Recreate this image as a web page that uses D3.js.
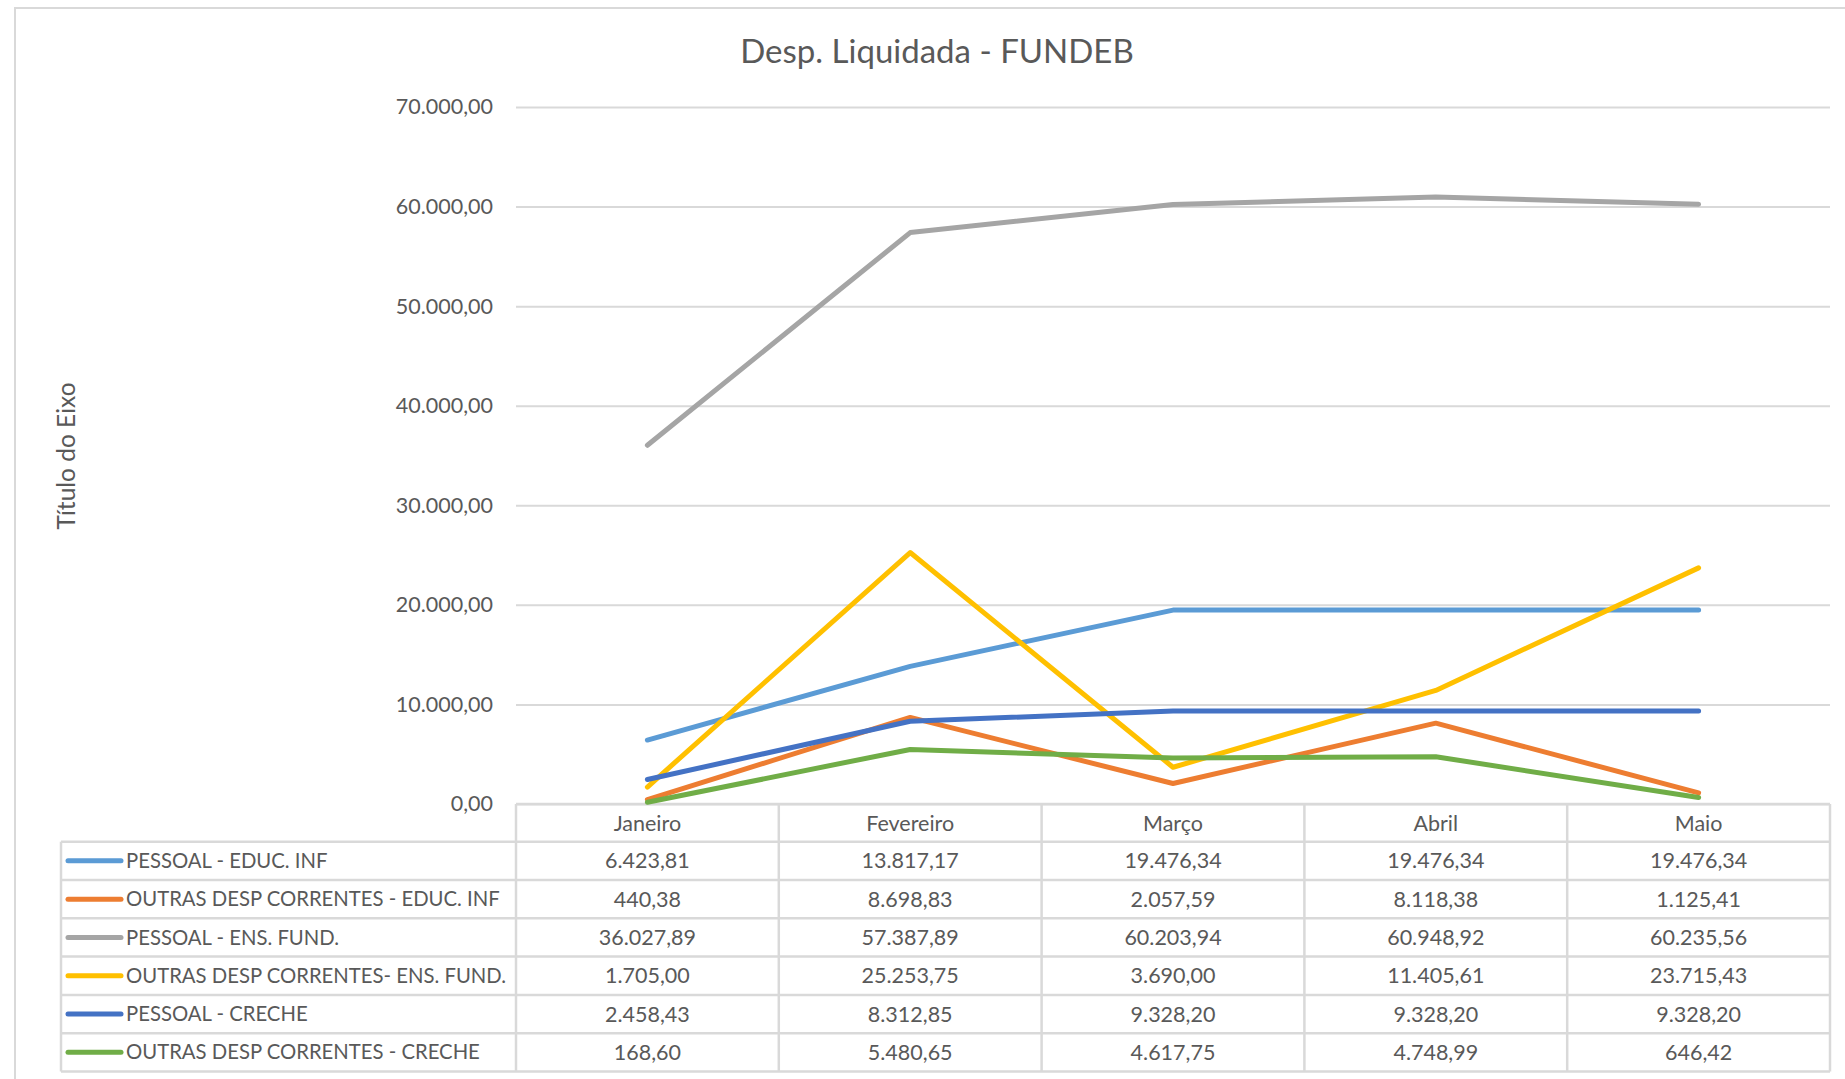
<!DOCTYPE html>
<html>
<head>
<meta charset="utf-8">
<script src="https://cdn.jsdelivr.net/npm/d3@7"></script>
<style>
  body { margin: 0; background: #fff; }
  svg { font-family: Lato, "Open Sans", sans-serif; }
  .tick text { fill: #595959; }
</style>
</head>
<body>
<div class="chart"></div>
<script>
const months = ["Janeiro", "Fevereiro", "Março", "Abril", "Maio"];
const seriesNames = [
    "PESSOAL - EDUC. INF",
    "OUTRAS DESP CORRENTES - EDUC. INF",
    "PESSOAL - ENS. FUND.",
    "OUTRAS DESP CORRENTES- ENS. FUND.",
    "PESSOAL - CRECHE",
    "OUTRAS DESP CORRENTES - CRECHE"
];
const pessoalEducInf = [6423.81, 13817.17, 19476.34, 19476.34, 19476.34];
const outrasEducInf = [440.38, 8698.83, 2057.59, 8118.38, 1125.41];
const pessoalEnsFund = [36027.89, 57387.89, 60203.94, 60948.92, 60235.56];
const outrasEnsFund = [1705.00, 25253.75, 3690.00, 11405.61, 23715.43];
const pessoalCreche = [2458.43, 8312.85, 9328.20, 9328.20, 9328.20];
const outrasCreche = [168.60, 5480.65, 4617.75, 4748.99, 646.42];
const yTicks = [0, 10000, 20000, 30000, 40000, 50000, 60000, 70000];
const colors = ["#5B9BD5", "#ED7D31", "#A5A5A5", "#FFC000", "#4472C4", "#70AD47"];

const allValues = [pessoalEducInf, outrasEducInf, pessoalEnsFund, outrasEnsFund, pessoalCreche, outrasCreche];

const ptBR = d3.formatLocale({ decimal: ",", thousands: ".", grouping: [3], currency: ["R$", ""] });
const fmt = ptBR.format(",.2f");

const w = 1845, h = 1079;
const plotLeft = 516, plotRight = 1830, plotTop = 107, plotBottom = 804;
const tableLeft = 61;
const rowH = 38.3;
const headerBottom = 841.7;
const textColor = "#595959";
const gridColor = "#D9D9D9";

var svg = d3.select(".chart").append("svg")
    .attr("width", w)
    .attr("height", h);

// chart frame
svg.append("rect")
    .attr("x", 15).attr("y", 8)
    .attr("width", w).attr("height", h)
    .attr("fill", "none")
    .attr("stroke", gridColor)
    .attr("stroke-width", 2);

svg.append("text")
    .attr("x", 937)
    .attr("y", 63)
    .attr("text-anchor", "middle")
    .attr("font-size", 33)
    .attr("fill", textColor)
    .text("Desp. Liquidada - FUNDEB");

var xScale = d3.scaleBand()
    .domain(months)
    .range([plotLeft, plotRight]);

var yScale = d3.scaleLinear()
    .domain([0, 70000])
    .range([plotBottom, plotTop]);

// gridlines + y labels
const yAxis = d3.axisLeft(yScale)
    .tickValues(yTicks)
    .tickFormat(fmt)
    .tickSize(-(plotRight - plotLeft))
    .tickPadding(23);

const yg = svg.append("g")
    .attr("transform", `translate(${plotLeft},0)`)
    .call(yAxis);
yg.select(".domain").remove();
yg.selectAll(".tick line").attr("stroke", gridColor).attr("stroke-width", 2);
yg.selectAll(".tick text").attr("font-size", 21.5).attr("font-family", "Lato");

svg.append("text")
    .attr("transform", "translate(75,456) rotate(-90)")
    .attr("text-anchor", "middle")
    .attr("font-size", 24.5)
    .attr("fill", textColor)
    .text("Título do Eixo");

// data table
const tableBottom = headerBottom + rowH * seriesNames.length;
const tbl = svg.append("g");

// header top line and column separators
tbl.append("line")
    .attr("x1", plotLeft).attr("x2", plotRight)
    .attr("y1", plotBottom).attr("y2", plotBottom)
    .attr("stroke", gridColor).attr("stroke-width", 2.5);

const colEdges = months.map(m => xScale(m)).concat([plotRight]);
tbl.selectAll(".col-line")
    .data(colEdges)
    .enter().append("line")
    .attr("x1", d => d).attr("x2", d => d)
    .attr("y1", plotBottom).attr("y2", tableBottom)
    .attr("stroke", gridColor).attr("stroke-width", 2.5);

tbl.selectAll(".row-line")
    .data(d3.range(seriesNames.length + 1))
    .enter().append("line")
    .attr("x1", tableLeft).attr("x2", plotRight)
    .attr("y1", i => headerBottom + i * rowH)
    .attr("y2", i => headerBottom + i * rowH)
    .attr("stroke", gridColor).attr("stroke-width", 2.5);

tbl.append("line")
    .attr("x1", tableLeft).attr("x2", tableLeft)
    .attr("y1", headerBottom).attr("y2", tableBottom)
    .attr("stroke", gridColor).attr("stroke-width", 2.5);

// month labels
tbl.selectAll(".month")
    .data(months)
    .enter().append("text")
    .attr("x", d => xScale(d) + xScale.bandwidth() / 2)
    .attr("y", plotBottom + 19)
    .attr("dy", "0.35em")
    .attr("text-anchor", "middle")
    .attr("font-size", 21.5)
    .attr("fill", textColor)
    .text(d => d);

const rows = tbl.selectAll(".row")
    .data(seriesNames)
    .enter().append("g")
    .attr("transform", (d, i) => `translate(0,${headerBottom + i * rowH + rowH / 2})`);

rows.append("line")
    .attr("x1", 68).attr("x2", 121)
    .attr("stroke", (d, i) => colors[i])
    .attr("stroke-width", 5)
    .attr("stroke-linecap", "round");

rows.append("text")
    .attr("x", 126)
    .attr("dy", "0.35em")
    .attr("font-size", 20.3)
    .attr("fill", textColor)
    .text(d => d);

rows.each(function(name, i) {
    d3.select(this).selectAll(".val")
        .data(allValues[i])
        .enter().append("text")
        .attr("x", (v, j) => xScale(months[j]) + xScale.bandwidth() / 2)
        .attr("dy", "0.35em")
        .attr("text-anchor", "middle")
        .attr("font-size", 21.5)
        .attr("fill", textColor)
        .text(v => fmt(v));
});

// lines
var line = d3.line()
    .x((v, j) => xScale(months[j]) + xScale.bandwidth() / 2)
    .y(v => yScale(v));

svg.append("g").selectAll("path")
    .data(allValues)
    .enter().append("path")
    .attr("d", line)
    .attr("fill", "none")
    .attr("stroke", (d, i) => colors[i])
    .attr("stroke-width", 5)
    .attr("stroke-linecap", "round")
    .attr("stroke-linejoin", "round");
</script>
</body>
</html>
